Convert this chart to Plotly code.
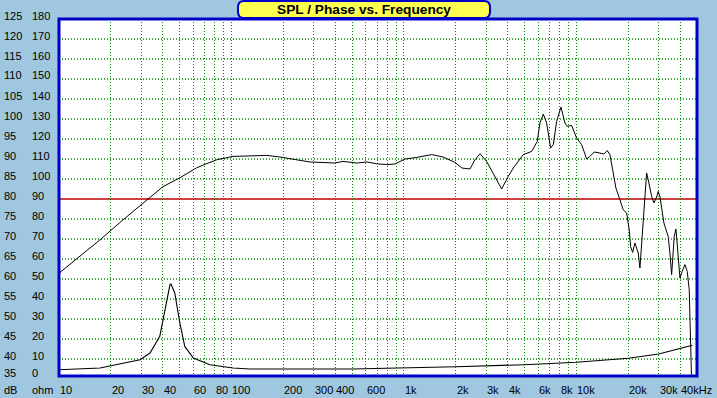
import math
import plotly.graph_objects as go

# ---------------- data ----------------
spl_freq = [10.1, 17.3, 22.5, 32.2, 40.1, 50.2, 62.8, 70.4, 82, 102, 160, 191, 218, 285, 398, 443,
            533, 611, 697, 796, 887, 1014, 1188, 1452, 1683, 1849, 1976, 2168, 2414, 2580, 2761,
            3015, 3371, 3684, 4025, 4302, 4918, 5499, 5929, 6141, 6424, 6718, 7087, 7341, 7677,
            8130, 8577, 8846, 9376, 10020, 10715, 11460, 11970, 12680, 13680, 14430, 15090,
            15640, 16220, 16940, 17870, 18670, 19540, 20230, 20610, 21170, 21830, 22810,
            23340, 24380, 24950, 25520, 26080, 27290, 28120, 29170, 29790, 30480, 32140,
            34040, 34830, 35640, 36890, 37750, 38620, 39810, 41040, 42560, 43890, 45070, 46500]
spl_db = [61.6, 69.8, 74.1, 79.8, 83.1, 85.3, 87.8, 88.7, 89.8, 90.65, 90.9, 90.5, 90.1, 89.25,
          89.0, 89.4, 89.0, 89.25, 88.8, 88.6, 88.75, 90.0, 90.4, 91.1, 90.5, 89.65, 89.15, 87.75,
          87.5, 89.8, 91.3, 89.4, 85.65, 82.5, 85.65, 87.75, 91.1, 91.9, 94.4, 99.0, 101.25, 99.0,
          92.75, 93.6, 99.4, 103.0, 99.0, 98.15, 98.4, 95.25, 93.6, 90.0, 90.65, 91.75, 91.5,
          91.25, 92.1, 91.1, 87.3, 82.75, 79.8, 77.3, 76.5, 72.3, 68.15, 66.65, 69.0, 66.5,
          62.75, 74.8, 82.3, 86.5, 84.8, 80.65, 79.0, 80.5, 81.9, 80.65, 74.0, 70.65, 66.5,
          61.1, 70.65, 72.5, 67.3, 60.25, 61.9, 63.6, 61.9, 57.3, 35.0]

imp_freq = [10, 17.3, 29.5, 33.7, 38.4, 41.2, 44.0, 44.6, 46.9, 50.2, 53.6, 60.1, 75, 102, 128,
            500, 1000, 2000, 5000, 10000, 20000, 30000, 47000]
imp_ohm = [4.65, 5.5, 9.65, 13.0, 21.3, 34.65, 47.15, 47.5, 43.0, 28.0, 16.3, 10.5, 7.15, 5.5,
           5.0, 5.0, 5.4, 6.15, 7.15, 8.4, 10.4, 12.5, 16.9]

db_ticks = [125, 120, 115, 110, 105, 100, 95, 90, 85, 80, 75, 70, 65, 60, 55, 50, 45, 40, 35]
ohm_ticks = [180, 170, 160, 150, 140, 130, 120, 110, 100, 90, 80, 70, 60, 50, 40, 30, 20, 10, 0]
freq_label_vals = [10, 20, 30, 40, 60, 80, 100, 200, 300, 400, 600, 1000, 2000, 3000, 4000,
                   6000, 8000, 10000, 20000, 30000, 40000]
freq_label_text = ["10", "20", "30", "40", "60", "80", "100", "200", "300", "400", "600", "1k",
                   "2k", "3k", "4k", "6k", "8k", "10k", "20k", "30k", "40kHz"]
title_text = "SPL / Phase vs. Frequency"

# ---------------- layout geometry ----------------
W, H = 717, 398
L, R, T, B = 59, 20, 19, 22
PW, PH = W - L - R, H - T - B
X_MAX = 50000
DB_PER_PX = 0.25
DB_TOP = 125
DB_BOT = DB_TOP - PH * DB_PER_PX


def pxx(x):
    return (x - L) / PW


def pxy(y):
    return (H - B - y) / PH


def db_to_paper(v):
    return (v - DB_BOT) / (DB_TOP - DB_BOT)


grid_freqs = [k * 10 ** d for d in range(1, 5) for k in range(1, 10) if 10 < k * 10 ** d < X_MAX]
GREEN = "#008C00"
BG = "#9FC7DF"
BLUE = "#0000C8"
FONT = "Liberation Sans, Arial, sans-serif"

fig = go.Figure()
fig.add_trace(go.Scatter(x=spl_freq, y=spl_db, mode="lines",
                         line=dict(color="black", width=1), yaxis="y", hoverinfo="skip"))
fig.add_trace(go.Scatter(x=imp_freq, y=imp_ohm, mode="lines",
                         line=dict(color="black", width=1.1), yaxis="y2", hoverinfo="skip"))

fig.update_layout(
    width=W, height=H,
    margin=dict(l=L, r=R, t=T, b=B, autoexpand=False),
    paper_bgcolor=BG, plot_bgcolor="white",
    showlegend=False,
    xaxis=dict(type="log", range=[1, math.log10(X_MAX)], tickvals=grid_freqs,
               showticklabels=False, ticks="", showgrid=True, gridcolor=GREEN,
               griddash="1px,2px", gridwidth=1, zeroline=False, showline=False, fixedrange=True),
    yaxis=dict(range=[DB_BOT, DB_TOP], showticklabels=False, ticks="", showgrid=False,
               zeroline=False, showline=False, fixedrange=True),
    yaxis2=dict(range=[(DB_BOT - 35) * 2, (DB_TOP - 35) * 2], overlaying="y", visible=False,
                showgrid=False, zeroline=False, fixedrange=True),
)

shapes = []
# horizontal grid lines (every 5 dB) drawn as dotted green shapes
for v in db_ticks:
    if 35 < v < 125 and v != 80:
        shapes.append(dict(type="line", xref="paper", yref="y", x0=0, x1=1, y0=v, y1=v,
                           line=dict(color=GREEN, width=1.3, dash="1px,2px"), layer="below"))
# red reference line at 80 dB
shapes.append(dict(type="line", xref="paper", yref="y", x0=0, x1=1, y0=80, y1=80,
                   line=dict(color="#C00000", width=1.6), layer="below"))
# plot border
shapes.append(dict(type="rect", xref="paper", yref="paper", x0=0, x1=1, y0=0, y1=1,
                   line=dict(color=BLUE, width=3), layer="above"))
# rounded title box
x0, x1, y0, y1, r = 238, 490, 1, 18, 6
pts = [
    f"M {pxx(x0 + r)},{pxy(y0)}", f"L {pxx(x1 - r)},{pxy(y0)}",
    f"Q {pxx(x1)},{pxy(y0)} {pxx(x1)},{pxy(y0 + r)}", f"L {pxx(x1)},{pxy(y1 - r)}",
    f"Q {pxx(x1)},{pxy(y1)} {pxx(x1 - r)},{pxy(y1)}", f"L {pxx(x0 + r)},{pxy(y1)}",
    f"Q {pxx(x0)},{pxy(y1)} {pxx(x0)},{pxy(y1 - r)}", f"L {pxx(x0)},{pxy(y0 + r)}",
    f"Q {pxx(x0)},{pxy(y0)} {pxx(x0 + r)},{pxy(y0)}", "Z",
]
shapes.append(dict(type="path", xref="paper", yref="paper", path=" ".join(pts),
                   fillcolor="#FFFF50", line=dict(color=BLUE, width=2), layer="above"))
fig.update_layout(shapes=shapes)

ann = []
lab_font = dict(family=FONT, size=11, color="black")
for dbv, ov in zip(db_ticks, ohm_ticks):
    shift = 3.5 if dbv != 35 else 6
    ann.append(dict(xref="paper", yref="paper", x=pxx(3), y=db_to_paper(dbv), yshift=shift,
                    text=str(dbv), showarrow=False, xanchor="left", yanchor="middle",
                    font=lab_font, borderpad=0))
    ann.append(dict(xref="paper", yref="paper", x=pxx(31), y=db_to_paper(dbv), yshift=shift,
                    text=str(ov), showarrow=False, xanchor="left", yanchor="middle",
                    font=lab_font, borderpad=0))
ann.append(dict(xref="paper", yref="paper", x=pxx(3), y=pxy(390), text="dB", showarrow=False,
                xanchor="left", yanchor="middle", font=lab_font, borderpad=0))
ann.append(dict(xref="paper", yref="paper", x=pxx(31), y=pxy(390), text="ohm", showarrow=False,
                xanchor="left", yanchor="middle", font=lab_font, borderpad=0))
for fv, ft in zip(freq_label_vals, freq_label_text):
    ann.append(dict(xref="x", yref="paper", x=math.log10(fv), y=pxy(390), text=ft,
                    showarrow=False, xanchor="left", yanchor="middle", font=lab_font,
                    borderpad=0))
ann.append(dict(xref="paper", yref="paper", x=pxx(364), y=pxy(9.5), text=f"<b>{title_text}</b>",
                showarrow=False, xanchor="center", yanchor="middle",
                font=dict(family=FONT, size=13.7, color="black"), borderpad=0))
fig.update_layout(annotations=ann)

fig.write_html("out.html", config={"displayModeBar": False},
               post_script="document.body.style.margin='0';document.body.style.overflow='hidden';")
